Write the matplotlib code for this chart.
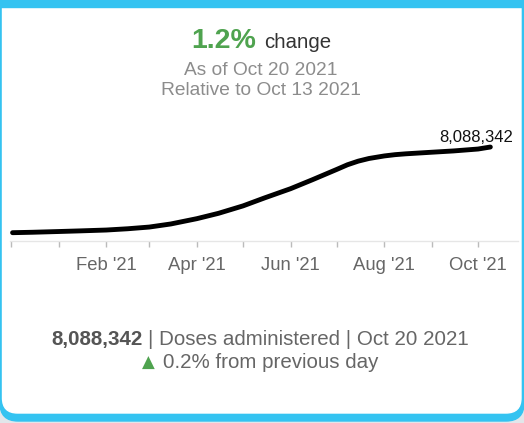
import datetime as dt

import matplotlib
matplotlib.use("Agg")
import matplotlib.pyplot as plt
import matplotlib.dates as mdates
from matplotlib.patches import FancyBboxPatch, Rectangle

# data (cumulative doses)
dates = ["2020-12-02", "2020-12-15", "2021-01-01", "2021-01-15", "2021-02-01",
         "2021-02-15", "2021-03-01", "2021-03-15", "2021-04-01", "2021-04-15",
         "2021-05-01", "2021-05-15", "2021-06-01", "2021-06-15", "2021-07-01",
         "2021-07-08", "2021-07-15", "2021-07-22", "2021-08-01", "2021-08-08",
         "2021-08-15", "2021-09-01", "2021-09-15", "2021-10-01", "2021-10-09"]
doses = [30000, 70000, 140000, 200000, 280000,
         400000, 560000, 850000, 1350000, 1850000,
         2550000, 3300000, 4170000, 5000000, 5980000,
         6420000, 6760000, 7010000, 7250000, 7370000,
         7450000, 7600000, 7720000, 7900000, 8088342]
latest = 8088342
week_change = "1.2%"
day_change = "0.2%"
as_of = "Oct 20 2021"
relative_to = "Oct 13 2021"

x = [dt.datetime.strptime(d, "%Y-%m-%d") for d in dates]

W, H = 524, 423
fig = plt.figure(figsize=(W / 100, H / 100), dpi=100)
plt.rcParams['font.family'] = ['Liberation Sans', 'DejaVu Sans']

blue = "#34c3f1"
green = "#4fa34f"

# card background drawn in pixel coords
bg = fig.add_axes([0, 0, 1, 1], zorder=0)
bg.set_xlim(0, W)
bg.set_ylim(H, 0)
bg.axis("off")
bg.add_patch(Rectangle((0, 405), W, 20, color="#e2e6ea", zorder=0))
bg.add_patch(FancyBboxPatch((0, -40), W, 461, boxstyle="round,pad=0,rounding_size=18",
                            color=blue, zorder=1))
bg.add_patch(FancyBboxPatch((2.5, -30), 518.5, 443, boxstyle="round,pad=0,rounding_size=15",
                            color="white", zorder=2))
bg.add_patch(Rectangle((0, 0), W, 7, color=blue, zorder=3))

# header
bg.text(256, 48, week_change, color=green, fontsize=20.5, fontweight="bold",
        ha="right", va="baseline", zorder=5)
bg.text(264, 48, "change", color="#333333", fontsize=14.7, ha="left", va="baseline", zorder=5)
bg.text(261, 75, "As of " + as_of, color="#8c8c8c", fontsize=13.8, ha="center",
        va="baseline", zorder=5)
bg.text(261, 95, "Relative to " + relative_to, color="#8c8c8c", fontsize=13.8,
        ha="center", va="baseline", zorder=5)

# footer
bg.text(143, 345, f"{latest:,}", color="#555555", fontsize=14.8, fontweight="bold",
        ha="right", va="baseline", zorder=5)
bg.text(148, 345, "| Doses administered | " + as_of, color="#666666", fontsize=14.8,
        ha="left", va="baseline", zorder=5)
bg.text(142, 368, "\u25b2", color=green, fontsize=12, ha="left", va="baseline",
        family=["DejaVu Sans"], zorder=5)
bg.text(163, 368, day_change + " from previous day", color="#666666", fontsize=14.8,
        ha="left", va="baseline", zorder=5)

# line chart
ax = fig.add_axes([10 / W, (H - 241) / H, 508 / W, 111 / H], zorder=1)
ax.patch.set_alpha(0)
ax.plot(x, doses, color="black", lw=3.5, solid_capstyle="round", solid_joinstyle="round")
ax.set_xlim(dt.datetime(2020, 11, 30, 8), dt.datetime(2021, 10, 27))
ax.set_ylim(-752000, 9690000)
for s in ["top", "right", "left"]:
    ax.spines[s].set_visible(False)
ax.spines["bottom"].set_color("#e6e6e6")
ax.spines["bottom"].set_linewidth(1)
ax.set_yticks([])
ax.xaxis.set_major_locator(mdates.MonthLocator(bymonth=[2, 4, 6, 8, 10]))
ax.xaxis.set_major_formatter(mdates.DateFormatter("%b '%y"))
ax.xaxis.set_minor_locator(mdates.MonthLocator())
ax.tick_params(axis="x", which="both", length=4.3, width=1, color="#bbbbbb",
               labelsize=13.3, labelcolor="#666666", pad=7)
ax.annotate(f"{latest:,}", xy=(x[-1], doses[-1]), xytext=(16.5, 3.6),
            textcoords="offset points", ha="right", va="baseline", fontsize=12,
            color="#111111")

fig.savefig("out.png", dpi=100)
